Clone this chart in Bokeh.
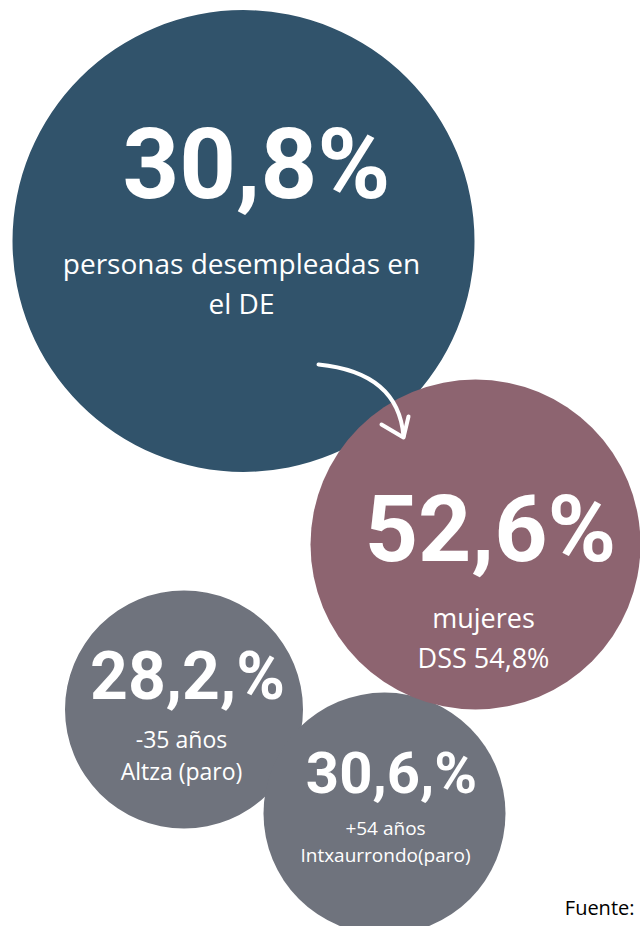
from bokeh.plotting import figure
from bokeh.models import Range1d, ColumnDataSource
from bokeh.core.properties import value
from bokeh.embed import file_html
from bokeh.resources import INLINE

# ---- data (texts of the infographic) ----
big_values = ["30,8%", "52,6%", "28,2,%", "30,6,%"]
line1 = ["personas desempleadas en", "mujeres", "-35 años", "+54 años"]
line2 = ["el DE", "DSS 54,8%", "Altza (paro)", "Intxaurrondo(paro)"]
source_note = "Fuente:"

# ---- layout (pixel coordinates of the reference page) ----
circ_x = [243, 183.5, 384, 475]
circ_y = [240.5, 709, 813, 544]
circ_r = [231, 119, 121, 165]
circ_c = ["#31536b", "#6f737d", "#6f737d", "#8d6470"]

num_x = [256, 490, 187, 391]
num_base = [200, 563, 700, 794]
num_px = [99, 93, 66, 58]

l1_x = [241, 483, 181, 385]
l1_base = [273, 627, 747, 835]
l2_base = [313, 667, 779, 862]
l_px = [28, 27, 23, 19]

K = 0.37  # baseline correction of the text layout (fraction of font size)


def adj(base, sizes):
    return [b - K * s for b, s in zip(base, sizes)]


W, H = 640, 926
p = figure(width=W, height=H, x_range=Range1d(0, W), y_range=Range1d(H, 0),
           output_backend="svg", toolbar_location=None, min_border=0,
           x_axis_type=None, y_axis_type=None)
p.grid.visible = False
p.outline_line_color = None
p.background_fill_color = "white"
p.border_fill_color = "white"

# circles: blue, gray, gray, pink
p.circle(x=circ_x, y=circ_y, radius=circ_r, fill_color=circ_c, line_color=None)

# curved arrow
p.quadratic(x0=[318], y0=[364], x1=[403], y1=[436], cx=[398], cy=[372],
            line_color="white", line_width=4, line_cap="round")
p.multi_line(xs=[[381, 403, 408]], ys=[[424, 437, 416]], line_color="white",
             line_width=4, line_cap="round", line_join="round")

nums = ColumnDataSource(dict(x=num_x, y=adj(num_base, num_px), t=big_values,
                             s=[f"{v}px" for v in num_px]))
p.text(x="x", y="y", text="t", text_font_size="s", source=nums,
       text_font=value("Roboto"), text_font_style="bold",
       text_color="white", text_align="center", text_baseline="alphabetic")

l1 = ColumnDataSource(dict(x=l1_x, y=adj(l1_base, l_px), t=line1,
                           s=[f"{v}px" for v in l_px]))
p.text(x="x", y="y", text="t", text_font_size="s", source=l1,
       text_font=value("Open Sans"), text_color="white",
       text_align="center", text_baseline="alphabetic")
l2 = ColumnDataSource(dict(x=l1_x, y=adj(l2_base, l_px), t=line2,
                           s=[f"{v}px" for v in l_px]))
p.text(x="x", y="y", text="t", text_font_size="s", source=l2,
       text_font=value("Open Sans"), text_color="white",
       text_align="center", text_baseline="alphabetic")

p.text(x=[634], y=adj([914], [20]), text=[source_note], text_font=value("Open Sans"),
       text_font_size="20px", text_color="black", text_align="right",
       text_baseline="alphabetic")

open("out.html", "w").write(file_html(p, INLINE))
